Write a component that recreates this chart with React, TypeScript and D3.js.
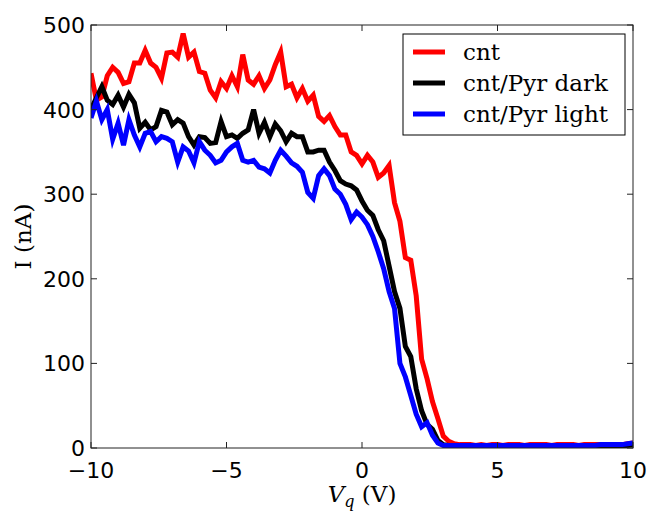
import React from "react";
import * as d3 from "d3";

const vg = [
  -10, -9.8, -9.6, -9.4, -9.2, -9, -8.8, -8.6, -8.4, -8.2,
  -8, -7.8, -7.6, -7.4, -7.2, -7, -6.8, -6.6, -6.4, -6.2,
  -6, -5.8, -5.6, -5.4, -5.2, -5, -4.8, -4.6, -4.4, -4.2,
  -4, -3.8, -3.6, -3.4, -3.2, -3, -2.8, -2.6, -2.4, -2.2,
  -2, -1.8, -1.6, -1.4, -1.2, -1, -0.8, -0.6, -0.4, -0.2,
  0, 0.2, 0.4, 0.6, 0.8, 1, 1.2, 1.4, 1.6, 1.8,
  2, 2.2, 2.4, 2.6, 2.8, 3, 3.2, 3.4, 3.6, 3.8,
  4, 4.2, 4.4, 4.6, 4.8, 5, 5.2, 5.4, 5.6, 5.8,
  6, 6.2, 6.4, 6.6, 6.8, 7, 7.2, 7.4, 7.6, 7.8,
  8, 8.2, 8.4, 8.6, 8.8, 9, 9.2, 9.4, 9.6, 9.8, 10,
];

const cnt = [
  443, 411, 415, 440, 450, 444, 431, 433, 455, 455,
  470, 455, 450, 437, 467, 468, 462, 490, 462, 468,
  445, 443, 423, 414, 433, 425, 440, 427, 465, 435,
  430, 440, 425, 435, 453, 468, 427, 430, 414, 425,
  410, 417, 392, 386, 393, 380, 370, 370, 350, 346,
  336, 346, 338, 320, 325, 334, 290, 268, 225, 222,
  180, 105, 82, 55, 35, 14, 8, 5, 4, 4,
  4, 3, 4, 3, 4, 4, 3, 4, 4, 4,
  3, 4, 4, 4, 4, 3, 4, 4, 4, 4,
  3, 4, 4, 4, 4, 3, 4, 4, 4, 5, 6,
];

const pyrDark = [
  400, 414, 427, 411, 406, 417, 403, 418, 408, 378,
  385, 376, 380, 399, 397, 382, 388, 384, 368, 358,
  368, 367, 360, 361, 386, 368, 370, 366, 372, 376,
  400, 372, 385, 368, 383, 375, 362, 372, 368, 368,
  350, 350, 352, 352, 338, 328, 316, 312, 310, 305,
  292, 281, 275, 258, 245, 215, 185, 165, 120, 108,
  70, 44, 28, 22, 9, 4, 3, 3, 2, 3,
  2, 2, 3, 2, 2, 2, 3, 2, 2, 2,
  2, 3, 2, 2, 2, 2, 3, 2, 2, 2,
  3, 2, 2, 2, 3, 2, 2, 3, 3, 3, 4,
];

const pyrLight = [
  390, 410, 388, 400, 365, 384, 358, 388, 370, 356,
  372, 374, 362, 368, 366, 362, 338, 356, 351, 337,
  362, 352, 346, 337, 340, 350, 356, 360, 340, 338,
  340, 332, 330, 325, 340, 352, 345, 337, 333, 326,
  302, 295, 322, 330, 322, 306, 300, 288, 270, 279,
  273, 264, 250, 232, 212, 185, 165, 100, 84, 62,
  40, 25, 30, 15, 6, 3, 3, 3, 3, 3,
  3, 3, 3, 3, 3, 3, 3, 3, 3, 3,
  3, 3, 3, 3, 3, 3, 3, 3, 3, 3,
  3, 3, 3, 3, 4, 4, 4, 4, 4, 5, 6,
];

const seriesNames = ["cnt", "cnt/Pyr dark", "cnt/Pyr light"];
const seriesColors = ["#ff0000", "#000000", "#0000ff"];
const seriesValues = [cnt, pyrDark, pyrLight];

const xTicks = [-10, -5, 0, 5, 10];
const yTicks = [0, 100, 200, 300, 400, 500];

const W = 649;
const H = 512;
const L = 91;
const R = 633;
const T = 25;
const B = 448;

export default function App() {
  const x = d3.scaleLinear().domain([-10, 10]).range([L, R]);
  const y = d3.scaleLinear().domain([0, 500]).range([B, T]);
  const line = d3
    .line<number>()
    .x((_, i) => x(vg[i]))
    .y((d) => y(d));
  const tickLen = 6;
  const fmt = (v: number) => (v < 0 ? "\u2212" + Math.abs(v) : String(v));
  const axisColor = "#222";
  const sans = "'DejaVu Sans', sans-serif";
  const serif = "'DejaVu Serif', serif";

  return (
    <svg
      width={W}
      height={H}
      style={{ position: "absolute", left: 0, top: 0, background: "#fff" }}
    >
      <rect x={0} y={0} width={W} height={H} fill="#fff" />
      <defs>
        <clipPath id="plot">
          <rect x={L} y={T} width={R - L} height={B - T} />
        </clipPath>
      </defs>
      <g clipPath="url(#plot)">
        {seriesValues.map((vals, k) => (
          <path
            key={k}
            d={line(vals) || ""}
            fill="none"
            stroke={seriesColors[k]}
            strokeWidth={5}
            strokeLinejoin="miter"
            strokeLinecap="butt"
          />
        ))}
      </g>
      <rect
        x={L}
        y={T}
        width={R - L}
        height={B - T}
        fill="none"
        stroke={axisColor}
        strokeWidth={1}
      />
      {xTicks.map((t) => (
        <g key={"x" + t}>
          <line x1={x(t)} x2={x(t)} y1={B} y2={B - tickLen} stroke={axisColor} />
          <line x1={x(t)} x2={x(t)} y1={T} y2={T + tickLen} stroke={axisColor} />
          <text
            x={x(t)}
            y={B + 30}
            textAnchor="middle"
            fontFamily={sans}
            fontSize={22}
            fill="#000"
          >
            {fmt(t)}
          </text>
        </g>
      ))}
      {yTicks.map((t) => (
        <g key={"y" + t}>
          <line x1={L} x2={L + tickLen} y1={y(t)} y2={y(t)} stroke={axisColor} />
          <line x1={R} x2={R - tickLen} y1={y(t)} y2={y(t)} stroke={axisColor} />
          <text
            x={L - 6}
            y={y(t) + 8}
            textAnchor="end"
            fontFamily={sans}
            fontSize={22}
            fill="#000"
          >
            {t}
          </text>
        </g>
      ))}
      <text
        transform={`translate(31, ${(T + B) / 2}) rotate(-90)`}
        textAnchor="middle"
        fontFamily={serif}
        fontSize={23}
        fill="#000"
      >
        I (nA)
      </text>
      <text
        x={(L + R) / 2}
        y={502}
        textAnchor="middle"
        fontFamily={serif}
        fontSize={23}
        fill="#000"
      >
        <tspan fontStyle="italic">V</tspan>
        <tspan fontStyle="italic" fontSize={16} dy={5}>
          q
        </tspan>
        <tspan dy={-5}> (V)</tspan>
      </text>
      <g>
        <rect
          x={403}
          y={34}
          width={222}
          height={101}
          fill="#fff"
          stroke="#000"
          strokeWidth={1}
        />
        {seriesNames.map((n, k) => (
          <g key={n}>
            <line
              x1={413}
              x2={445}
              y1={52 + k * 31}
              y2={52 + k * 31}
              stroke={seriesColors[k]}
              strokeWidth={5}
            />
            <text
              x={463}
              y={60 + k * 31}
              fontFamily={serif}
              fontSize={23}
              fill="#000"
            >
              {n}
            </text>
          </g>
        ))}
      </g>
    </svg>
  );
}
